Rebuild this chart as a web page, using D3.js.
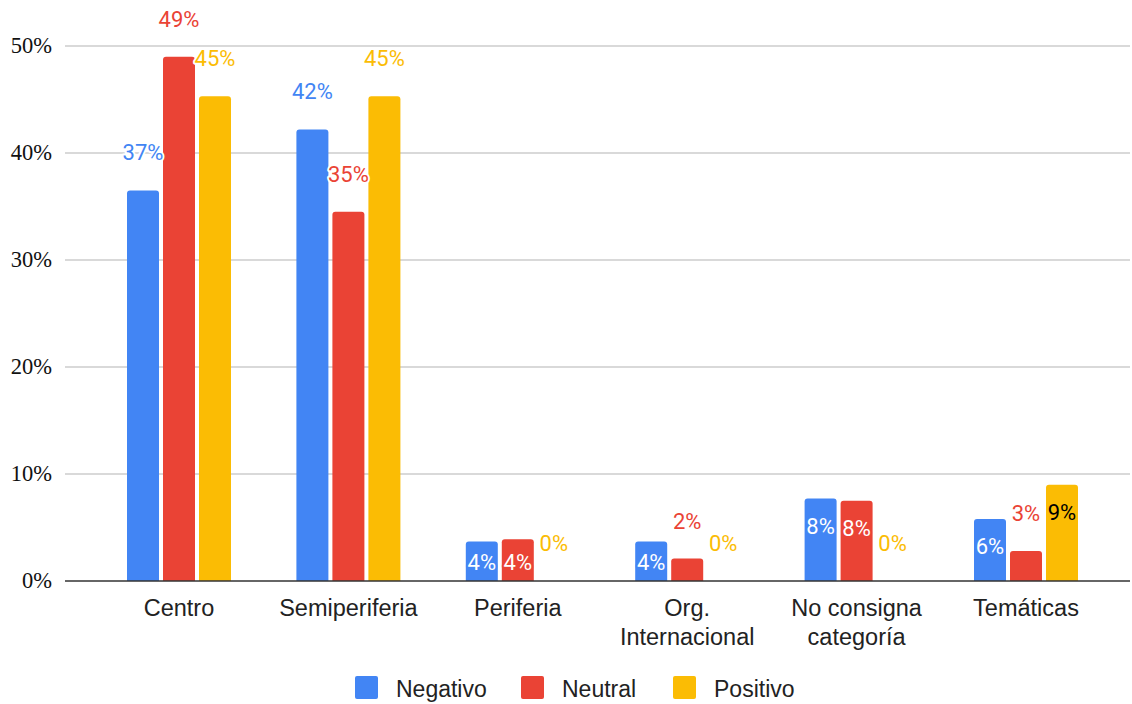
<!DOCTYPE html>
<html>
<head>
<meta charset="utf-8">
<script src="https://cdn.jsdelivr.net/npm/d3@7"></script>
<style>
  html, body { margin: 0; padding: 0; background: #fff; }
  svg { display: block; }
</style>
</head>
<body>
<svg id="chart" width="1132" height="704"></svg>
<script>
// Categories (x-axis groups), with line breaks for wrapped labels
const categories = ["Centro", "Semiperiferia", "Periferia", "Org.\nInternacional", "No consigna\ncategoría", "Temáticas"];
const seriesNames = ["Negativo", "Neutral", "Positivo"];
const seriesColors = ["#4285F4", "#EA4335", "#FBBC04"];

// Share of mentions per category (percent)
const negativo = [36.5, 42.2, 3.7, 3.7, 7.7, 5.8];
const neutral  = [49.0, 34.5, 3.9, 2.1, 7.5, 2.8];
const positivo = [45.3, 45.3, 0, 0, 0, 9.0];

const yTicks = [0, 10, 20, 30, 40, 50];

const series = [negativo, neutral, positivo];

const svg = d3.select("#chart");
const gridLeft = 65, gridRight = 1130;
const y = d3.scaleLinear().domain([0, 50]).range([581, 46]);
const x0 = d3.scaleBand().domain(categories).range([94.3, 1110.7]).paddingInner(0).paddingOuter(0);
const barW = 32, barGap = 4;
const x1 = d3.scaleBand().domain(seriesNames).range([0, 3 * barW + 2 * barGap]).paddingInner(barGap / (barW + barGap)).paddingOuter(0);
const groupW = 3 * barW + 2 * barGap;

// Gridlines and y tick labels
const grid = svg.append("g");
grid.selectAll("line").data(yTicks.filter(t => t > 0)).join("line")
  .attr("x1", gridLeft).attr("x2", gridRight)
  .attr("y1", d => y(d)).attr("y2", d => y(d))
  .attr("stroke", "#cccccc").attr("stroke-width", 1.3);

svg.append("g").selectAll("text").data(yTicks).join("text")
  .attr("x", 52).attr("y", d => y(d) + 7)
  .attr("text-anchor", "end")
  .attr("font-family", "'Liberation Serif', 'Times New Roman', serif")
  .attr("font-size", 22.5).attr("fill", "#111")
  .text(d => d + "%");

// Flatten to bar records
const bars = [];
categories.forEach((c, i) => {
  series.forEach((s, j) => {
    bars.push({ cat: c, name: seriesNames[j], color: seriesColors[j], value: s[i], j });
  });
});

function barPath(x, yTop, w, yBase, r) {
  const h = yBase - yTop;
  if (h <= 0) return "";
  r = Math.min(r, h, w / 2);
  return `M${x},${yBase}V${yTop + r}Q${x},${yTop} ${x + r},${yTop}H${x + w - r}Q${x + w},${yTop} ${x + w},${yTop + r}V${yBase}Z`;
}

const bx = d => x0(d.cat) + (x0.bandwidth() - groupW) / 2 + x1(d.name);

svg.append("g").selectAll("path").data(bars).join("path")
  .attr("d", d => barPath(bx(d), y(d.value), x1.bandwidth(), y(0), 3))
  .attr("fill", d => d.color);

// Baseline
svg.append("line").attr("x1", gridLeft).attr("x2", gridRight)
  .attr("y1", y(0)).attr("y2", y(0)).attr("stroke", "#333").attr("stroke-width", 1.5);

// Value annotations: small bars (3%–10%) carry the label inside, others above
const inside = d => d.value >= 3 && d.value < 10;
const labels = svg.append("g")
  .attr("font-family", "Roboto, 'Noto Sans', sans-serif")
  .attr("font-size", 22)
  .attr("text-anchor", "middle");

labels.selectAll("text").data(bars).join("text")
  .attr("x", d => bx(d) + x1.bandwidth() / 2)
  .attr("y", d => inside(d) ? Math.min(y(d.value) + 27, y(0) - 19) + 8 : y(d.value) - 38 + 8)
  .attr("fill", d => inside(d) ? (d.j === 2 ? "#000" : "#fff") : d.color)
  .attr("stroke", d => inside(d) ? d.color : "#fff")
  .attr("stroke-width", 4)
  .attr("stroke-linejoin", "round")
  .attr("paint-order", "stroke")
  .text(d => Math.round(d.value) + "%");

// Category labels
const xl = svg.append("g")
  .attr("font-family", "'Liberation Sans', Arial, sans-serif")
  .attr("font-size", 23.5).attr("fill", "#222")
  .attr("text-anchor", "middle");
categories.forEach(c => {
  const lines = c.split("\n");
  const cx = x0(c) + x0.bandwidth() / 2;
  const t = xl.append("text").attr("x", cx).attr("y", 616);
  lines.forEach((ln, k) => {
    t.append("tspan").attr("x", cx).attr("dy", k === 0 ? 0 : 29).text(ln);
  });
});

// Legend
const legendX = [355, 521, 673];
const lg = svg.append("g");
seriesNames.forEach((n, i) => {
  lg.append("rect").attr("x", legendX[i]).attr("y", 676).attr("width", 23).attr("height", 23)
    .attr("rx", 2).attr("fill", seriesColors[i]);
  lg.append("text").attr("x", legendX[i] + 41).attr("y", 697)
    .attr("font-family", "'Liberation Sans', Arial, sans-serif").attr("font-size", 23).attr("fill", "#222")
    .text(n);
});
</script>
</body>
</html>
